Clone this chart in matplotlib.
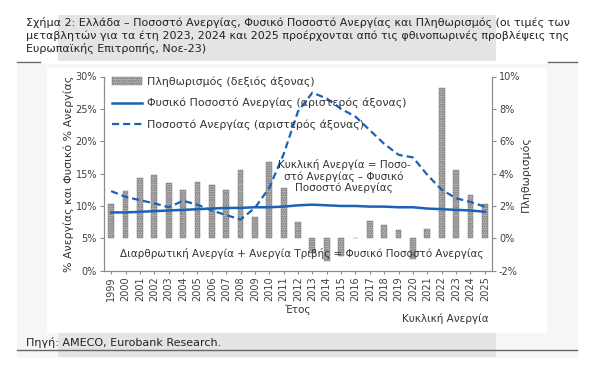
import matplotlib.pyplot as plt
import matplotlib.patches as mpatches
from matplotlib.lines import Line2D
import numpy as np

# data
years = [str(y) for y in range(1999, 2026)]
inflation = [2.1, 2.9, 3.7, 3.9, 3.4, 3.0, 3.5, 3.3, 3.0, 4.2, 1.3, 4.7, 3.1, 1.0,
             -0.9, -1.4, -1.1, 0.0, 1.1, 0.8, 0.5, -1.3, 0.6, 9.3, 4.2, 2.7, 2.1]
natural_rate = [9.0, 9.0, 9.1, 9.2, 9.3, 9.4, 9.5, 9.6, 9.7, 9.7, 9.8, 9.8, 9.9, 10.1,
                10.2, 10.1, 10.0, 10.0, 9.9, 9.9, 9.8, 9.8, 9.6, 9.5, 9.4, 9.3, 9.1]
unemployment = [12.3, 11.4, 10.9, 10.4, 9.8, 10.8, 10.2, 9.3, 8.6, 7.9, 9.7, 12.8, 18.0, 24.6,
                27.5, 26.6, 25.0, 23.8, 21.7, 19.6, 17.9, 17.5, 14.8, 12.5, 11.2, 10.6, 9.9]

lbl_infl = 'Πληθωρισμός (δεξιός άξονας)'
lbl_nat = 'Φυσικό Ποσοστό Ανεργίας (αριστερός άξονας)'
lbl_unemp = 'Ποσοστό Ανεργίας (αριστερός άξονας)'

plt.rcParams['font.family'] = ['DejaVu Sans']
W, H = 598, 365
fig = plt.figure(figsize=(W / 100, H / 100), dpi=100)
fig.patch.set_facecolor('white')

def px(x0, y0, x1, y1):
    # pixel box -> figure fraction rect
    return (x0 / W, 1 - y1 / H, (x1 - x0) / W, (y1 - y0) / H)

# background panels
for box, col in [((17, 64, 578, 358), '#f6f6f8'), ((47, 68, 547, 333), 'white'),
                 ((58, 15, 496, 61), '#e4e4e4'), ((58, 333, 496, 357), '#e4e4e4')]:
    x, y, w, h = px(*box)
    fig.add_artist(mpatches.Rectangle((x, y), w, h, transform=fig.transFigure,
                                      facecolor=col, edgecolor='none', lw=0, zorder=-5))
# short rules at the top corners and the long one above the source note
for x0, x1, yy in [(17, 40, 62), (548, 577, 62), (17, 577, 350)]:
    fig.add_artist(Line2D([x0 / W, x1 / W], [1 - yy / H, 1 - yy / H],
                          transform=fig.transFigure, color='#666666', lw=1.0))

fig.text(26 / W, 1 - 17 / H,
         'Σχήμα 2: Ελλάδα – Ποσοστό Ανεργίας, Φυσικό Ποσοστό Ανεργίας και Πληθωρισμός (οι τιμές των\n'
         'μεταβλητών για τα έτη 2023, 2024 και 2025 προέρχονται από τις φθινοπωρινές προβλέψεις της\n'
         'Ευρωπαϊκής Επιτροπής, Noε-23)',
         fontsize=8.0, va='top', ha='left', color='#222222', linespacing=1.25)
fig.text(26 / W, 1 - 342 / H, 'Πηγή: AMECO, Eurobank Research.', fontsize=8.0,
         va='center', ha='left', color='#222222')

ax = fig.add_axes(px(104, 76.5, 492, 270.7))
ax2 = ax.twinx()
x = np.arange(len(years))

bars = ax2.bar(x, inflation, width=0.4, facecolor='#bdbdbd', edgecolor='#6e6e6e',
               hatch='.......', linewidth=0.3)
ln_nat, = ax.plot(x, natural_rate, color='#1a62b5', lw=1.8)
ln_un, = ax.plot(x, unemployment, color='#1a62b5', lw=1.6, ls=(0, (3.2, 1.8)))

ax.set_zorder(ax2.get_zorder() + 1)
ax.patch.set_visible(False)

ax.set_xlim(-0.5, len(years) - 0.5)
ax.set_ylim(0, 30)
ax.set_yticks(range(0, 31, 5))
ax.set_yticklabels([f'{v}%' for v in range(0, 31, 5)])
ax2.set_ylim(-2, 10)
ax2.set_yticks(range(-2, 11, 2))
ax2.set_yticklabels([f'{v}%' for v in range(-2, 11, 2)])
ax.set_xticks(x)
ax.set_xticklabels(years, rotation=90)

for a in (ax, ax2):
    a.spines['top'].set_visible(False)
    for s in ('left', 'right', 'bottom'):
        a.spines[s].set_color('#8c8c8c')
        a.spines[s].set_linewidth(0.8)
    a.tick_params(colors='#8c8c8c', labelcolor='#404040', labelsize=7, length=3, width=0.8)
ax.tick_params(axis='x', length=2, pad=2)
ax.tick_params(axis='y', pad=2)
ax2.tick_params(axis='y', pad=2)

ax.set_ylabel('% Ανεργίας και Φυσικό % Ανεργίας', fontsize=7.9, color='#333333', labelpad=1)
ax2.set_ylabel('Πληθωρισμός', fontsize=7.9, color='#333333', rotation=90, labelpad=0)

ax.legend([bars, ln_nat, ln_un], [lbl_infl, lbl_nat, lbl_unemp], loc='upper left',
          bbox_to_anchor=(0.0, 1.04), frameon=False, fontsize=7.9, handlelength=2.8,
          handletextpad=0.4, labelspacing=1.0, borderaxespad=0.3, labelcolor='#333333')

ax.text(16.2, 14.6, 'Κυκλική Ανεργία = Ποσο-\nστό Ανεργίας – Φυσικό\nΠοσοστό Ανεργίας',
        ha='center', va='center', fontsize=7.5, color='#333333', linespacing=1.15)
ax.text(13.25, 2.6, 'Διαρθρωτική Ανεργία + Ανεργία Τριβής = Φυσικό Ποσοστό Ανεργίας',
        ha='center', va='center', fontsize=7.5, color='#333333')

fig.text(297 / W, 1 - 310 / H, 'Έτος', ha='center', va='center', fontsize=7.5, color='#333333')
fig.text(489 / W, 1 - 318 / H, 'Κυκλική Ανεργία', ha='right', va='center', fontsize=7.5,
         color='#333333')

fig.savefig('out.png', dpi=100)
